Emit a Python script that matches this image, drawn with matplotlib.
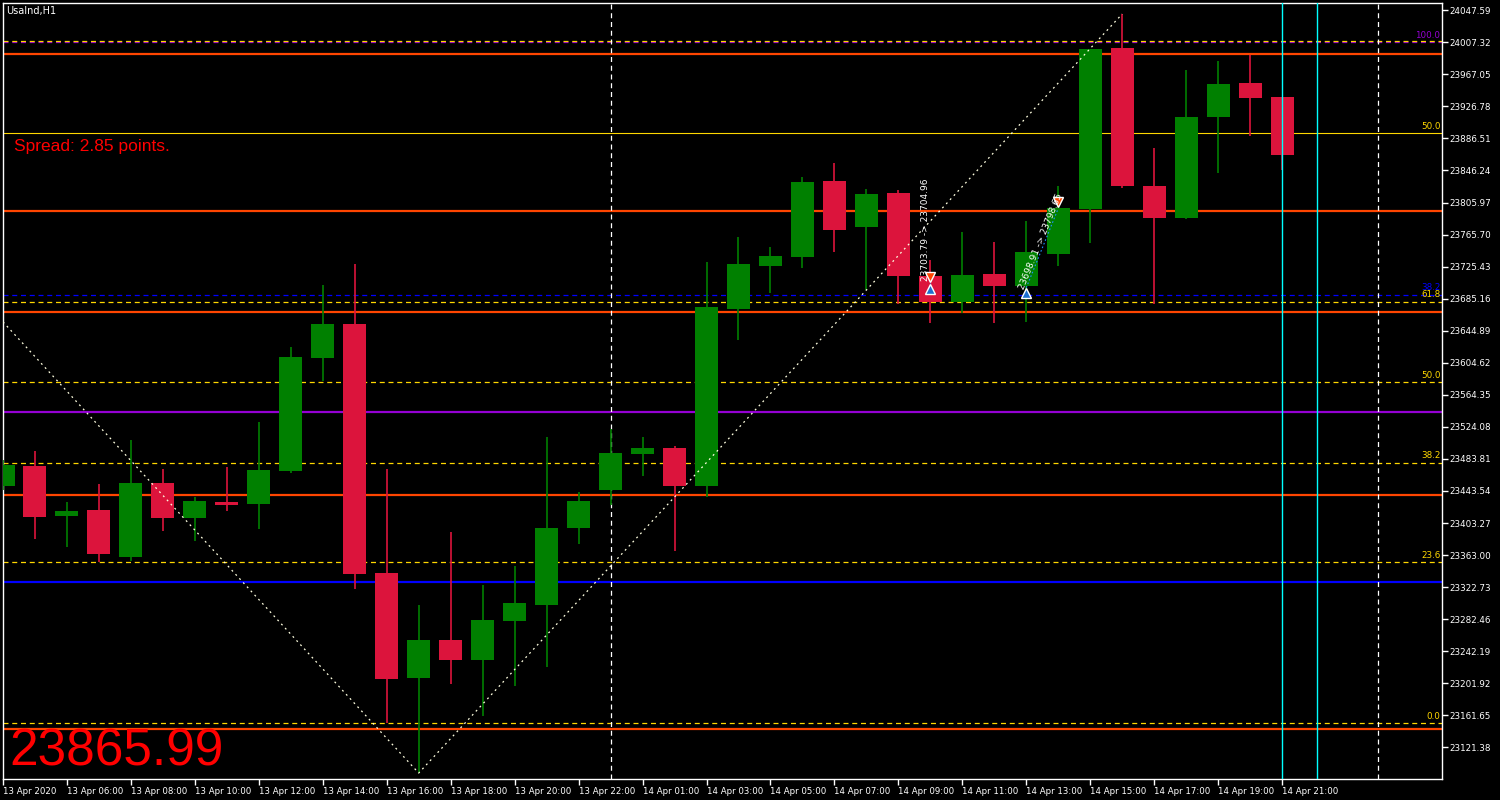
import matplotlib
matplotlib.use("Agg")
import matplotlib.pyplot as plt
import matplotlib.transforms as mtransforms

# UsaInd H1 bars, 13 Apr 04:00 .. 14 Apr 21:00 (no 14 Apr 00:00 bar)
bar_days = ["13 Apr"] * 20 + ["14 Apr"] * 21
bar_hours = list(range(4, 24)) + list(range(1, 22))

opens = [23449.8, 23474.9, 23412.1, 23419.6, 23360.5, 23453.5, 23409.5, 23429.6,
         23427.1, 23468.6, 23610.6, 23653.3, 23340.4, 23208.5, 23256.2, 23231.1,
         23280.1, 23300.2, 23397.0, 23444.7, 23490.0, 23497.5, 23449.8, 23672.2,
         23726.2, 23737.5, 23833.0, 23775.2, 23817.9, 23713.6, 23681.0, 23716.2,
         23701.1, 23741.3, 23797.8, 24000.2, 23826.7, 23786.5, 23913.5, 23956.2,
         23938.6]
highs = [23482.4, 23493.7, 23429.6, 23452.3, 23507.6, 23471.1, 23435.9, 23473.6,
         23530.2, 23624.4, 23702.3, 23728.7, 23471.1, 23300.2, 23391.9, 23325.3,
         23349.2, 23511.3, 23442.2, 23521.4, 23511.3, 23500.0, 23731.2, 23762.7,
         23750.1, 23838.1, 23855.7, 23823.0, 23821.7, 23733.8, 23768.9, 23756.4,
         23782.8, 23826.7, 23999.5, 24042.9, 23874.5, 23972.5, 23983.8, 23991.4,
         23938.6]
lows = [23444.7, 23383.2, 23373.1, 23354.2, 23355.5, 23393.2, 23380.6, 23418.3,
        23395.7, 23466.0, 23581.7, 23320.3, 23151.9, 23089.1, 23200.9, 23160.7,
        23198.4, 23222.3, 23376.9, 23425.9, 23462.3, 23368.1, 23435.9, 23633.2,
        23692.3, 23723.7, 23743.8, 23696.1, 23678.5, 23654.6, 23667.2, 23654.6,
        23655.8, 23726.2, 23755.1, 23824.2, 23678.5, 23785.5, 23843.1, 23889.6,
        23846.9]
closes = [23476.1, 23410.8, 23418.3, 23364.3, 23453.5, 23409.5, 23430.9, 23425.9,
          23469.9, 23611.9, 23653.3, 23339.2, 23207.2, 23256.2, 23231.1, 23281.4,
          23302.7, 23397.0, 23430.9, 23491.2, 23497.5, 23449.8, 23674.7, 23728.7,
          23738.8, 23831.8, 23771.5, 23816.7, 23713.6, 23681.0, 23714.9, 23701.1,
          23743.8, 23799.1, 23998.9, 23826.7, 23786.5, 23913.5, 23954.9, 23937.3,
          23865.99]

price_ticks = [24047.59, 24007.32, 23967.05, 23926.78, 23886.51, 23846.24, 23805.97,
               23765.70, 23725.43, 23685.16, 23644.89, 23604.62, 23564.35, 23524.08,
               23483.81, 23443.54, 23403.27, 23363.00, 23322.73, 23282.46, 23242.19,
               23201.92, 23161.65, 23121.38]

# drawn objects
orange_levels = [23993.0, 23795.3, 23668.8, 23438.4, 23144.4]
purple_level = 23542.7
blue_level = 23329.1
blue_dash_level = 23690.1
purple_dash_level = 24007.1
yellow_solid_level = 23893.0
fib_low = 23151.5
fib_high = 24008.6
fib_ratios = [0.0, 23.6, 38.2, 50.0, 61.8]
zigzag_bars = [0, 13, 35]
zigzag_prices = [23656.0, 23089.1, 24042.9]
separator_bars = [19, 43]
cyan_bars = [40, 41.08]

trades = [  # open bar, open price, close bar, close price
    (29, 23703.79, 29, 23704.96),
    (32, 23698.91, 33, 23798.65),
]
current_price = 23865.99
spread = 2.85

BULL = "#008000"
BEAR = "#DC143C"
GOLD = "#FFD700"

fig = plt.figure(figsize=(15, 8), dpi=100, facecolor="black")
ax = fig.add_axes([3 / 1500, 21 / 800, 1439 / 1500, 776 / 800], facecolor="black")

# horizontal objects (behind the bars)
for lv in orange_levels:
    ax.axhline(lv, color="#FF4500", lw=1.6, zorder=1)
ax.axhline(purple_level, color="#9400D3", lw=1.6, zorder=1)
ax.axhline(blue_level, color="#0000FF", lw=1.6, zorder=1)
ax.axhline(yellow_solid_level, color=GOLD, lw=0.8, zorder=1)
ax.axhline(blue_dash_level, color="#0000FF", lw=0.9, dashes=(4, 3), zorder=1)
ax.axhline(purple_dash_level, color="#9400D3", lw=0.9, dashes=(4, 3), zorder=1)
for r in fib_ratios + [100.0]:
    lv = fib_low + (fib_high - fib_low) * r / 100
    ax.axhline(lv, color=GOLD, lw=0.9, dashes=(4, 3), zorder=1)
for r in fib_ratios:
    lv = fib_low + (fib_high - fib_low) * r / 100
    ax.text(44.95, lv + 3, f"{r:.1f}", color=GOLD, fontsize=6.3,
            ha="right", va="bottom", zorder=2)
ax.text(44.95, blue_dash_level + 3, "38.2", color="#0000FF", fontsize=6.3,
        ha="right", va="bottom", zorder=2)
ax.text(44.95, purple_dash_level + 3, "100.0", color="#9400D3", fontsize=6.3,
        ha="right", va="bottom", zorder=2)
ax.text(44.95, yellow_solid_level + 3, "50.0", color=GOLD, fontsize=6.3,
        ha="right", va="bottom", zorder=2)

for b in separator_bars:
    ax.axvline(b, color="white", lw=0.9, dashes=(4, 3), zorder=1)

# candles
n = len(opens)
for i in range(n):
    col = BULL if closes[i] >= opens[i] else BEAR
    ax.vlines(i, lows[i], highs[i], color=col, lw=1.2, zorder=3)
    lo = min(opens[i], closes[i])
    h = max(abs(closes[i] - opens[i]), 1.0)
    ax.bar(i, h, bottom=lo, width=0.72, color=col, lw=0, zorder=4)

# zigzag / fibo trend line
ax.plot(zigzag_bars, zigzag_prices, color="#FFFFE0", lw=0.9, dashes=(1.5, 3), zorder=5)

for b in cyan_bars:
    ax.axvline(b, color="#00FFFF", lw=1, zorder=6)

# trades
up_off = mtransforms.offset_copy(ax.transData, fig=fig, x=0, y=-5, units="dots")
dn_off = mtransforms.offset_copy(ax.transData, fig=fig, x=0, y=6, units="dots")
for ob, op, cb, cp in trades:
    ax.plot([ob, cb], [op, cp], color="#1E90FF", lw=0.8, dashes=(1.5, 2), zorder=6)
    ax.plot(ob, op, marker="^", ms=7, color="#1E6FD0", mec="white", mew=1,
            transform=up_off, zorder=7)
    ax.plot(cb, cp, marker="v", ms=7, color="#FF4500", mec="white", mew=1,
            transform=dn_off, zorder=7)
ax.text(28.86, trades[0][1] + 3, f"{trades[0][1]:.2f} -> {trades[0][3]:.2f}",
        color="white", fontsize=6.5, rotation=90, rotation_mode="anchor",
        ha="left", va="center", zorder=8)
ax.text(31.85, trades[1][1] - 2, f"{trades[1][1]:.2f} -> {trades[1][3]:.2f}",
        color="white", fontsize=6.5, rotation=68, rotation_mode="anchor",
        ha="left", va="center", zorder=8)

# axes
ax.set_xlim(0.03, 45.0)
ax.set_ylim(23081.6, 24056.7)
for s in ax.spines.values():
    s.set_color("white")
    s.set_linewidth(1)

ax.yaxis.tick_right()
ax.set_yticks(price_ticks)
ax.set_yticklabels([f"{p:.2f}" for p in price_ticks])
ax.tick_params(axis="y", colors="white", labelsize=6.3, length=4, width=1,
               direction="out", pad=1.5)

xt = list(range(0, n, 2))
xl = []
for i in xt:
    if i == 0:
        xl.append("13 Apr 2020")
    else:
        xl.append(f"{bar_days[i]} {bar_hours[i]:02d}:00")
ax.set_xticks(xt)
ax.set_xticklabels(xl, ha="left")
ax.tick_params(axis="x", colors="white", labelsize=6.2, length=4, width=1,
               direction="out", pad=1.5)

fig.text(6 / 1500, 1 - 14 / 800, "UsaInd,H1", color="white", fontsize=7,
         va="baseline")
fig.text(14 / 1500, 1 - 151 / 800, f"Spread: {spread:.2f} points.", color="#FF0000",
         fontsize=12.5, family="Liberation Sans", va="baseline")
fig.text(9 / 1500, 1 - 766 / 800, f"{current_price:.2f}", color="#FF0000",
         fontsize=37, family="Liberation Sans", va="baseline")

fig.savefig("out.png", dpi=100, facecolor="black")
